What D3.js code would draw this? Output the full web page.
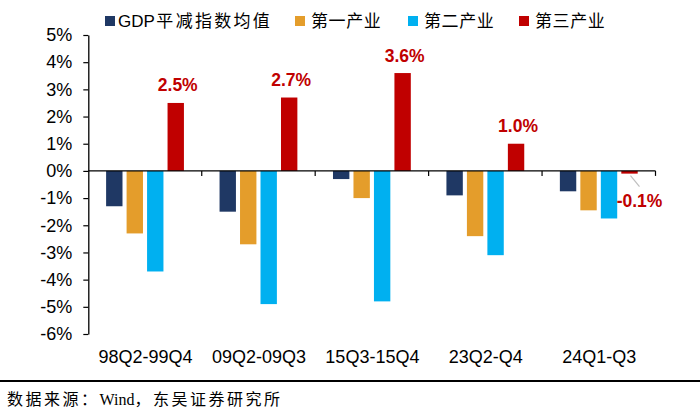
<!DOCTYPE html>
<html>
<head>
<meta charset="utf-8">
<script src="https://cdn.jsdelivr.net/npm/d3@7/dist/d3.min.js"></script>
<style>
  html, body { margin: 0; padding: 0; background: #fff; }
  svg { display: block; }
</style>
</head>
<body>
<svg id="chart" width="700" height="413"></svg>
<script>
const categories = ["98Q2-99Q4", "09Q2-09Q3", "15Q3-15Q4", "23Q2-Q4", "24Q1-Q3"];
const seriesNames = ["GDP平减指数均值", "第一产业", "第二产业", "第三产业"];
const gdpDeflator = [-1.3, -1.5, -0.3, -0.9, -0.75];
const primary = [-2.3, -2.7, -1.0, -2.4, -1.45];
const secondary = [-3.7, -4.9, -4.8, -3.1, -1.75];
const tertiary = [2.5, 2.7, 3.6, 1.0, -0.1];
const tertiaryLabels = ["2.5%", "2.7%", "3.6%", "1.0%", "-0.1%"];
const yTicks = [5, 4, 3, 2, 1, 0, -1, -2, -3, -4, -5, -6];
const colors = ["#1F3864", "#E49D2B", "#00B0F0", "#C00000"];

const seriesValues = [gdpDeflator, primary, secondary, tertiary];
const svg = d3.select("#chart");

const plotLeft = 88.3, plotRight = 655.5, plotTop = 35, plotBottom = 334;
const y = d3.scaleLinear().domain([5, -6]).range([plotTop, plotBottom]);
const x0 = d3.scaleBand().domain(categories).range([plotLeft, plotRight]).padding(0);
const bw0 = x0.bandwidth();
const x1 = d3.scaleBand().domain(d3.range(4)).range([bw0 * 0.157, bw0 * 0.843]).paddingInner(0.2);

const axisFont = "'Liberation Sans', Arial, sans-serif";

// Bars
const rows = [];
categories.forEach((c, i) => {
  seriesValues.forEach((arr, s) => rows.push({ c, s, v: arr[i] }));
});
svg.append("g").selectAll("rect").data(rows).join("rect")
  .attr("x", d => x0(d.c) + x1(d.s))
  .attr("width", x1.bandwidth())
  .attr("y", d => y(Math.max(0, d.v)))
  .attr("height", d => Math.abs(y(d.v) - y(0)))
  .attr("fill", d => colors[d.s]);

// Y axis
const yAxis = svg.append("g")
  .attr("transform", `translate(${plotLeft},0)`)
  .call(d3.axisLeft(y).tickValues(yTicks).tickFormat(d => d + "%").tickSize(5).tickPadding(11).tickSizeOuter(0));
yAxis.select(".domain").attr("stroke", "#000").attr("stroke-width", 1.3);
yAxis.selectAll(".tick line").attr("stroke", "#000").attr("stroke-width", 1.2);
yAxis.selectAll(".tick text").attr("font-family", axisFont).attr("font-size", 18).attr("fill", "#000");

// Zero axis line with category ticks
const zx = svg.append("g").attr("transform", `translate(0,${y(0)})`);
zx.append("line").attr("x1", plotLeft).attr("x2", plotRight).attr("stroke", "#000").attr("stroke-width", 1.4);
zx.selectAll(".ct").data(categories.slice(1).map(c => x0(c)).concat([plotRight])).join("line")
  .attr("x1", d => d).attr("x2", d => d).attr("y1", 0).attr("y2", 5)
  .attr("stroke", "#000").attr("stroke-width", 1.2);

// Category labels
svg.append("g").selectAll("text").data(categories).join("text")
  .attr("x", d => x0(d) + bw0 / 2 + 0.5)
  .attr("y", 362.7)
  .attr("text-anchor", "middle")
  .attr("font-family", axisFont).attr("font-size", 18).attr("fill", "#000")
  .text(d => d);

// Data labels for tertiary
const lab = svg.append("g");
categories.forEach((c, i) => {
  const v = tertiary[i];
  const cx = x0(c) + x1(3) + x1.bandwidth() / 2;
  if (v >= 0) {
    lab.append("text")
      .attr("x", cx + 2).attr("y", y(v) - 11.5)
      .attr("text-anchor", "middle")
      .attr("font-family", axisFont).attr("font-weight", "bold").attr("font-size", 17.5)
      .attr("fill", "#C00000").text(tertiaryLabels[i]);
  } else {
    lab.append("line")
      .attr("x1", cx + 1).attr("y1", y(v) + 2)
      .attr("x2", cx + 10).attr("y2", y(v) + 13)
      .attr("stroke", "#BFBFBF").attr("stroke-width", 1.2);
    lab.append("text")
      .attr("x", cx + 10).attr("y", y(v) + 33)
      .attr("text-anchor", "middle")
      .attr("font-family", axisFont).attr("font-weight", "bold").attr("font-size", 17.5)
      .attr("fill", "#C00000").text(tertiaryLabels[i]);
  }
});

// Legend
const legendX = [105, 295, 408, 519];
const leg = svg.append("g");
seriesNames.forEach((n, i) => {
  leg.append("rect").attr("x", legendX[i]).attr("y", 16).attr("width", 10).attr("height", 10).attr("fill", colors[i]);
  const t = leg.append("text").attr("x", legendX[i] + 13).attr("y", 26.5)
    .attr("font-size", 17).attr("fill", "#000")
    .attr("font-family", "'Liberation Sans', 'Noto Sans CJK SC', sans-serif");
  if (i === 0) {
    t.append("tspan").attr("font-size", 17).text("GDP");
    t.append("tspan").attr("dx", 1.5).attr("font-family", "'Noto Sans CJK SC', sans-serif").attr("letter-spacing", 2.3).text(n.slice(3));
  } else {
    t.attr("font-family", "'Noto Sans CJK SC', sans-serif").attr("letter-spacing", 0.6).attr("x", legendX[i] + 16).text(n);
  }
});

// Footer
svg.append("line").attr("x1", 0).attr("x2", 700).attr("y1", 381).attr("y2", 381)
  .attr("stroke", "#000").attr("stroke-width", 2);
const foot = svg.append("text").attr("x", 7).attr("y", 405)
  .attr("font-family", "'Liberation Serif', 'Noto Sans CJK SC', serif")
  .attr("font-size", 16).attr("fill", "#000");
foot.append("tspan").attr("letter-spacing", 2.5).text("数据来源：");
foot.append("tspan").text("Wind");
foot.append("tspan").attr("letter-spacing", 2.5).text("，东吴证券研究所");
</script>
</body>
</html>
